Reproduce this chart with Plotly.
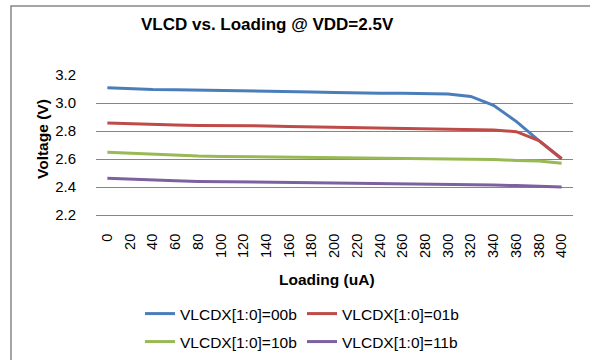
import plotly.graph_objects as go

# Load current in uA (category axis)
loading = [0, 20, 40, 60, 80, 100, 120, 140, 160, 180, 200,
           220, 240, 260, 280, 300, 320, 340, 360, 380, 400]

vlcdx_00b = [3.109, 3.102, 3.097, 3.095, 3.093, 3.090, 3.087, 3.085, 3.081, 3.078, 3.075,
             3.071, 3.069, 3.069, 3.069, 3.065, 3.047, 2.983, 2.869, 2.731, 2.602]
vlcdx_01b = [2.857, 2.851, 2.845, 2.842, 2.840, 2.840, 2.837, 2.836, 2.832, 2.829, 2.826,
             2.822, 2.820, 2.817, 2.814, 2.813, 2.812, 2.808, 2.795, 2.731, 2.602]
vlcdx_10b = [2.648, 2.640, 2.632, 2.626, 2.621, 2.618, 2.616, 2.616, 2.614, 2.612, 2.610,
             2.608, 2.606, 2.603, 2.602, 2.601, 2.600, 2.597, 2.590, 2.586, 2.570]
vlcdx_11b = [2.462, 2.455, 2.450, 2.445, 2.440, 2.438, 2.436, 2.437, 2.436, 2.431, 2.429,
             2.428, 2.426, 2.421, 2.419, 2.418, 2.416, 2.414, 2.410, 2.405, 2.400]

series = [
    ("VLCDX[1:0]=00b", vlcdx_00b, "#4A7EBB", "legend"),
    ("VLCDX[1:0]=01b", vlcdx_01b, "#BE4B48", "legend"),
    ("VLCDX[1:0]=10b", vlcdx_10b, "#98B954", "legend2"),
    ("VLCDX[1:0]=11b", vlcdx_11b, "#7D60A0", "legend2"),
]

y_ticks = [2.2, 2.4, 2.6, 2.8, 3.0, 3.2]

FONT = "Liberation Sans, Arial, sans-serif"

fig = go.Figure()
x_labels = [str(v) for v in loading]
for name, vals, color, leg in series:
    fig.add_trace(go.Scatter(
        x=x_labels, y=vals, name=name, mode="lines",
        line=dict(color=color, width=3),
        legend=leg,
    ))

legend_common = dict(
    orientation="h", xanchor="left", yanchor="middle",
    font=dict(family=FONT, size=15.5, color="#000000"),
    bgcolor="rgba(0,0,0,0)", entrywidth=117, entrywidthmode="pixels",
    itemwidth=30, tracegroupgap=0,
)

fig.update_layout(
    width=590, height=360,
    margin=dict(l=96, r=17, t=75, b=145, autoexpand=False),
    paper_bgcolor="white", plot_bgcolor="white",
    font=dict(family=FONT, size=14, color="#000000"),
    showlegend=True,
    legend=dict(x=(140 - 96) / 477, y=(215 - 314) / 140, **legend_common),
    legend2=dict(x=(140 - 96) / 477, y=(215 - 342) / 140, **legend_common),
    xaxis=dict(
        type="category", tickangle=-90, showgrid=False,
        showline=True, linecolor="#868686", linewidth=1,
        ticks="", ticklabelstandoff=12,
        tickfont=dict(family=FONT, size=14.5, color="#000000"),
        range=[-0.5, len(loading) - 0.5],
    ),
    yaxis=dict(
        range=[2.2, 3.2], tickvals=y_ticks, ticktext=[f"{v:.1f}" for v in y_ticks],
        showgrid=True, gridcolor="#868686", gridwidth=1, zeroline=False,
        showline=False, ticks="", ticklabelstandoff=19,
        tickfont=dict(family=FONT, size=15, color="#000000"),
    ),
    annotations=[
        dict(text="<b>VLCD vs. Loading @ VDD=2.5V</b>", xref="paper", yref="paper",
             x=(267 - 96) / 477, y=(215 - 25) / 140, xanchor="center", yanchor="middle",
             showarrow=False, font=dict(family=FONT, size=17, color="#000000")),
        dict(text="<b>Loading (uA)</b>", xref="paper", yref="paper",
             x=(327 - 96) / 477, y=(215 - 279) / 140, xanchor="center", yanchor="middle",
             showarrow=False, font=dict(family=FONT, size=15.5, color="#000000")),
        dict(text="<b>Voltage (V)</b>", xref="paper", yref="paper", textangle=-90,
             x=(42 - 96) / 477, y=(215 - 139) / 140, xanchor="center", yanchor="middle",
             showarrow=False, font=dict(family=FONT, size=15.5, color="#000000")),
    ],
    shapes=[
        dict(type="rect", xref="paper", yref="paper",
             x0=(11 - 96) / 477, x1=2, y0=-3, y1=(215 - 6) / 140,
             line=dict(color="#878787", width=1.5), fillcolor="rgba(0,0,0,0)",
             layer="below"),
    ],
)

fig.write_html("out.html")
